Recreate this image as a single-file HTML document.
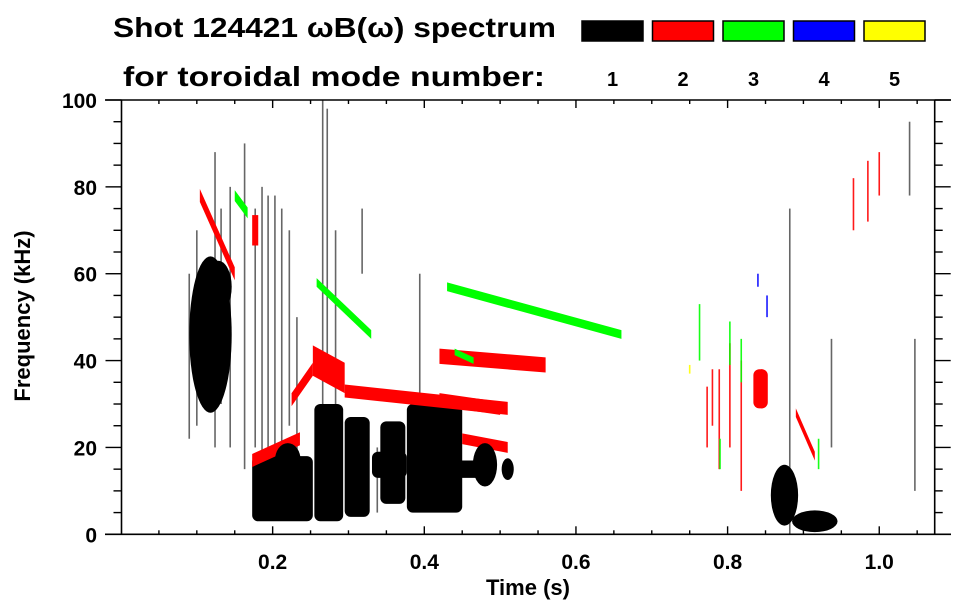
<!DOCTYPE html>
<html><head><meta charset="utf-8"><style>
html,body{margin:0;padding:0;background:#fff;}
svg{display:block;font-family:"Liberation Sans",Arial,sans-serif;font-weight:bold;}
</style></head><body>
<svg id="chart" width="963" height="615" viewBox="0 0 963 615" xmlns="http://www.w3.org/2000/svg">
<g id="marks"></g>
<g id="axes"></g>
<text x="113" y="37" font-size="28" textLength="443" lengthAdjust="spacingAndGlyphs">Shot 124421 ωB(ω) spectrum</text>
<text x="123" y="86" font-size="28" textLength="422" lengthAdjust="spacingAndGlyphs">for toroidal mode number:</text>
<g id="legend"></g>
<text x="528" y="595" font-size="22" text-anchor="middle">Time (s)</text>
<text transform="translate(30,316) rotate(-90)" font-size="22" text-anchor="middle">Frequency (kHz)</text>
</svg>
<script>
// ---- data ----
const modeNumbers = [1, 2, 3, 4, 5];
const modeColors = ["#000000", "#ff0000", "#00ff00", "#0000ff", "#ffff00"];
const xTicks = [0.2, 0.4, 0.6, 0.8, 1.0];
const xTickLabels = ["0.2", "0.4", "0.6", "0.8", "1.0"];
const yTicks = [0, 20, 40, 60, 80, 100];
const yTickLabels = ["0", "20", "40", "60", "80", "100"];
// blob (ellipse) marks: mode, centre time, centre freq, half-width (s), half-height (kHz)
const blobMode = [1, 1, 1, 1, 1, 1, 1];
const blobT = [0.118, 0.220, 0.480, 0.510, 0.875, 0.915, 0.128];
const blobF = [46, 17, 16, 15, 9, 3, 57];
const blobDT = [0.028, 0.017, 0.016, 0.008, 0.018, 0.030, 0.018];
const blobDF = [18, 4, 5, 2.5, 7, 2.5, 6];
// block (rect) marks: mode, start time, end time, freq low, freq high
const blockMode = [1, 1, 1, 1, 1, 1, 2];
const blockT0 = [0.173, 0.255, 0.295, 0.342, 0.377, 0.331, 0.834];
const blockT1 = [0.253, 0.293, 0.328, 0.375, 0.450, 0.377, 0.853];
const blockF0 = [3, 3, 4, 7, 5, 13, 29];
const blockF1 = [18, 30, 27, 26, 30, 19, 38];
// band marks: mode, start time, start freq, end time, end freq, thickness (kHz)
const bandMode = [2, 2, 2, 2, 2, 2, 2, 2, 2, 3, 3, 3, 1, 2, 3];
const bandT0 = [0.104, 0.173, 0.225, 0.253, 0.295, 0.420, 0.420, 0.450, 0.890, 0.150, 0.258, 0.430, 0.447, 0.173, 0.440];
const bandF0 = [78, 17, 31, 40, 33, 31, 41, 22, 28, 78, 58, 57, 15, 70, 42];
const bandT1 = [0.150, 0.236, 0.253, 0.295, 0.510, 0.500, 0.560, 0.510, 0.915, 0.167, 0.330, 0.660, 0.472, 0.181, 0.465];
const bandF1 = [60, 22, 38, 36, 29, 29, 39, 20, 18, 74, 46, 46, 15, 70, 40];
const bandW = [3, 3, 3, 7, 3, 3, 3.5, 2.5, 2, 2.5, 2, 2, 4, 7, 1.5];
// streak marks: mode, time, freq low, freq high
const streakMode = [1,1,1,1,1,1,1,1,1,1,1,1,1,1,1,1,1,1,1,1, 2,2,2,2,2,2, 3,3,3,3,3, 4,4, 5, 1,1,1, 2,2,2];
const streakT = [0.090,0.100,0.124,0.132,0.144,0.163,0.177,0.186,0.194,0.203,0.212,0.222,0.266,0.272,0.283,0.394,0.882,0.937,1.040,1.047, 0.773,0.789,0.803,0.818,0.845,0.780, 0.763,0.803,0.818,0.790,0.920, 0.840,0.852, 0.750, 0.318,0.338,0.232, 0.966,0.985,1.000];
const streakF0 = [22,25,20,30,20,15,20,10,20,15,20,25,30,40,10,10,0,20,78,10, 20,15,20,10,29,25, 40,39,35,15,15, 57,50, 37, 60,5,10, 70,72,78];
const streakF1 = [60,70,88,75,80,90,75,80,78,78,75,70,100,98,70,60,75,45,95,45, 34,38,44,40,38,38, 53,49,45,22,22, 60,55, 39, 75,20,50, 82,86,88];
</script>
<script>
const X0 = 121, XS = 758.25, Y0 = 534.3, YS = 4.343;
function xs(t){ return X0 + t * XS; }
function ys(f){ return Y0 - f * YS; }
const NS = "http://www.w3.org/2000/svg";
const marks = document.getElementById("marks");
const axes = document.getElementById("axes");
const legend = document.getElementById("legend");
function mk(tag, attrs, parent){
  const e = document.createElementNS(NS, tag);
  for (const k in attrs) e.setAttribute(k, attrs[k]);
  parent.appendChild(e);
  return e;
}
// streaks
for (let i = 0; i < streakT.length; i++){
  const e = mk("rect", {x: xs(streakT[i]) - 0.8, y: ys(streakF1[i]), width: 1.6, height: ys(streakF0[i]) - ys(streakF1[i]), fill: modeColors[streakMode[i]-1], opacity: streakMode[i] === 1 ? 0.6 : 0.9}, marks);
  
  
}
// blocks
for (let i = 0; i < blockT0.length; i++){
  const e = mk("rect", {x: xs(blockT0[i]), y: ys(blockF1[i]), width: xs(blockT1[i]) - xs(blockT0[i]), height: ys(blockF0[i]) - ys(blockF1[i]), rx: 6, fill: modeColors[blockMode[i]-1]}, marks);
  
  
}
// bands
for (let i = 0; i < bandT0.length; i++){
  const h = bandW[i] / 2;
  const pts = [[xs(bandT0[i]), ys(bandF0[i] + h)], [xs(bandT1[i]), ys(bandF1[i] + h)], [xs(bandT1[i]), ys(bandF1[i] - h)], [xs(bandT0[i]), ys(bandF0[i] - h)]];
  const e = mk("polygon", {points: pts.map(p => p.join(",")).join(" "), fill: modeColors[bandMode[i]-1]}, marks);
  
  
}
// blobs
for (let i = 0; i < blobT.length; i++){
  const e = mk("ellipse", {cx: xs(blobT[i]), cy: ys(blobF[i]), rx: blobDT[i] * XS, ry: blobDF[i] * YS, fill: modeColors[blobMode[i]-1]}, marks);
  
  
}
// axes frame
const L = 121.5, R = 934.7, T = 100, B = 534.3;
const frame = [[105, T, 951, T], [105, B, 951, B], [L, T, L, B], [R, T, R, B]];
frame.forEach(f => {
  const e = mk("line", {x1: f[0], y1: f[1], x2: f[2], y2: f[3], stroke: "#000", "stroke-width": 1.6}, axes);
  
  
});
for (let k = 1; k * 0.05 < 1.073; k++){
  const t = k * 0.05, major = (k % 4 === 0), len = major ? 8 : 4;
  const e1 = mk("line", {x1: xs(t), y1: B, x2: xs(t), y2: B - len, stroke: "#000", "stroke-width": 1.4}, axes);
  
  
  const e2 = mk("line", {x1: xs(t), y1: T, x2: xs(t), y2: T + len, stroke: "#000", "stroke-width": 1.4}, axes);
  
  
}
xTicks.forEach((t, i) => {
  const e = mk("text", {x: xs(t), y: 569, "font-size": 21, "text-anchor": "middle"}, axes);
  e.textContent = xTickLabels[i];
  
  
});
for (let f = 0; f <= 100; f += 5){
  const major = (f % 20 === 0), len = major ? 16 : 8;
  const e1 = mk("line", {x1: L, y1: ys(f), x2: L - len, y2: ys(f), stroke: "#000", "stroke-width": 1.4}, axes);
  
  
  const e2 = mk("line", {x1: R, y1: ys(f), x2: R + len, y2: ys(f), stroke: "#000", "stroke-width": 1.4}, axes);
  
  
}
yTicks.forEach((f, i) => {
  const e = mk("text", {x: 97, y: ys(f) + 8, "font-size": 21, "text-anchor": "end"}, axes);
  e.textContent = yTickLabels[i];
  
  
});
modeNumbers.forEach((m, i) => {
  const x = 582 + i * 70.5;
  const r = mk("rect", {x: x, y: 21, width: 61, height: 20, fill: modeColors[i], stroke: "#000", "stroke-width": 1.5}, legend);
  
  
  const tx = mk("text", {x: x + 30.5, y: 86, "font-size": 20, "text-anchor": "middle"}, legend);
  tx.textContent = String(m);
  
  
});
</script>
</body></html>
